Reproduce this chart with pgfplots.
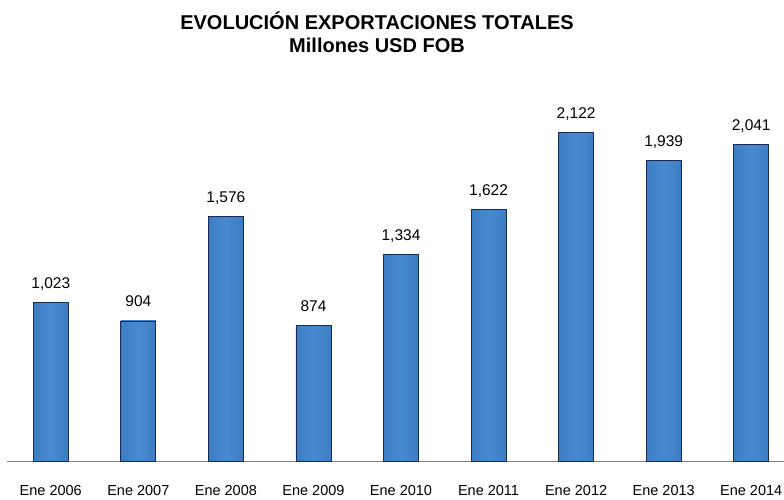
\documentclass[border=0pt]{standalone}
\usepackage{pgfplots}
\pgfplotsset{compat=1.18}
\usepackage{fontspec}
\setmainfont{Liberation Sans}

\definecolor{barMid}{RGB}{56,118,188}
\definecolor{barLight}{RGB}{72,138,208}
\definecolor{barDark}{RGB}{22,44,86}
\definecolor{axisGray}{RGB}{130,130,130}

\pgfdeclarehorizontalshading{barshade}{100bp}{
  color(0bp)=(barDark); color(12bp)=(barMid); color(50bp)=(barLight);
  color(85bp)=(barMid); color(100bp)=(barDark)}

\pgfplotsset{
  onebar/.style={ybar, bar width=35pt, bar shift=0pt, draw=barDark,
                 line width=0.7pt, shading=barshade, forget plot}
}

\begin{document}
\begin{tikzpicture}[x=1pt,y=1pt]
  \begin{axis}[
      at={(7pt,38pt)}, anchor=south west,
      scale only axis,
      width=788pt, height=372pt,
      xmin=-0.5, xmax=8.5,
      ymin=0, ymax=2400,
      axis x line*=bottom,
      axis y line=none,
      x axis line style={axisGray, thin, -},
      xtick={0,...,8},
      xtick style={draw=none},
      xticklabels={Ene 2006, Ene 2007, Ene 2008, Ene 2009, Ene 2010,
                   Ene 2011, Ene 2012, Ene 2013, Ene 2014},
      xticklabel style={font=\fontsize{14.5}{15}\selectfont, anchor=base, yshift=-34pt},
      ytick=\empty,
      nodes near coords,
      nodes near coords style={font=\fontsize{15.5}{16}\selectfont, anchor=base,
                               inner sep=0pt, yshift=14pt,
                               /pgf/number format/1000 sep={,},
                               /pgf/number format/assume math mode=true},
      clip=false,
    ]
    \addplot[onebar] coordinates {(0,1023)};
    \addplot[onebar] coordinates {(1,904)};
    \addplot[onebar] coordinates {(2,1576)};
    \addplot[onebar] coordinates {(3,874)};
    \addplot[onebar] coordinates {(4,1334)};
    \addplot[onebar] coordinates {(5,1622)};
    \addplot[onebar] coordinates {(6,2122)};
    \addplot[onebar] coordinates {(7,1939)};
    \addplot[onebar] coordinates {(8,2041)};
  \end{axis}
  \node[anchor=base, font=\bfseries\fontsize{20}{20}\selectfont] at (377pt,469pt)
    {EVOLUCIÓN EXPORTACIONES TOTALES};
  \node[anchor=base, font=\bfseries\fontsize{20}{20}\selectfont] at (377pt,446pt)
    {Millones USD FOB};
  \pgfresetboundingbox
  \useasboundingbox (0,0) rectangle (784pt,499pt);
\end{tikzpicture}
\end{document}
